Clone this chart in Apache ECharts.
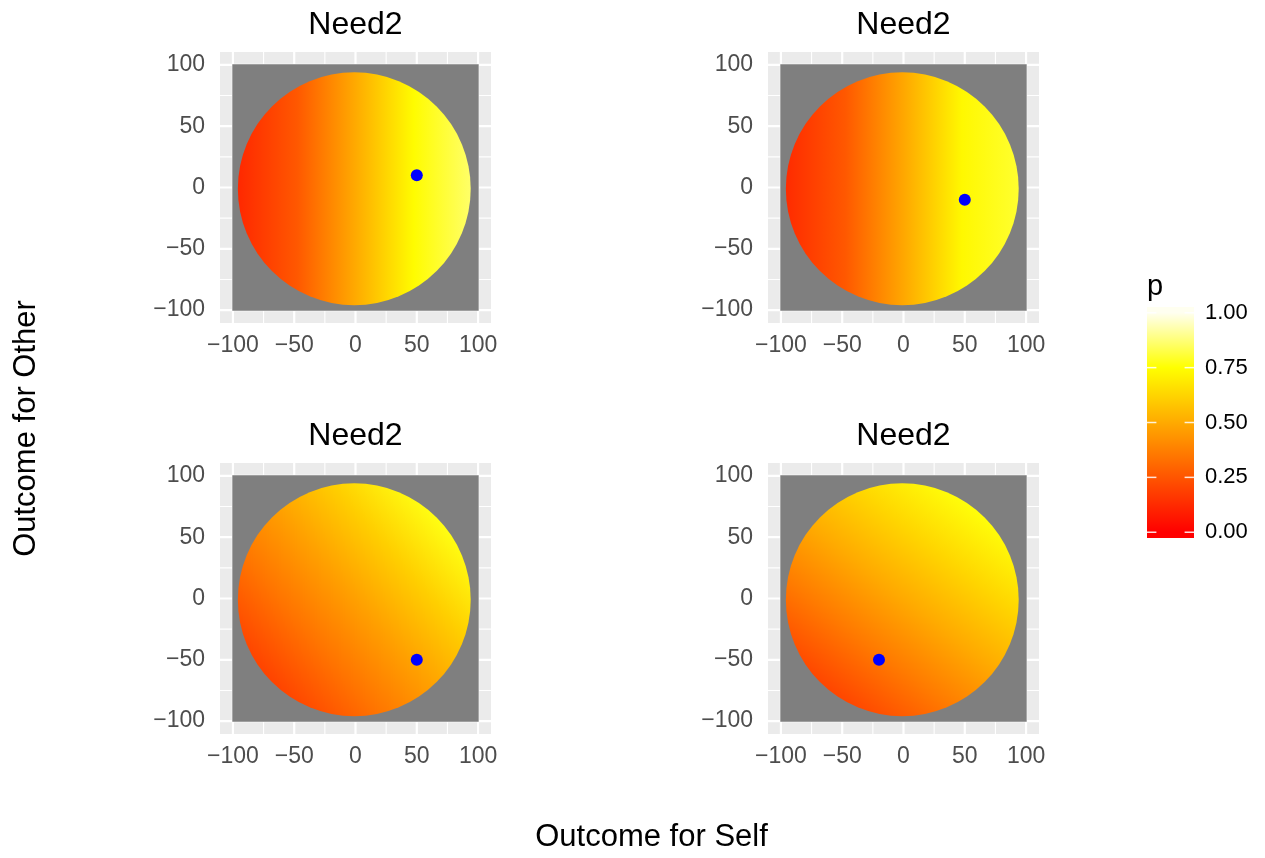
<!DOCTYPE html>
<html>
<head>
<meta charset="utf-8">
<script src="https://cdn.jsdelivr.net/npm/echarts@6/dist/echarts.min.js"></script>
<style>
  html, body { margin: 0; padding: 0; background: #ffffff; }
  #chart { width: 1265px; height: 858px; }
</style>
</head>
<body>
<div id="chart"></div>
<script>
// ---- data ----
const panelTitles = ['Need2', 'Need2', 'Need2', 'Need2'];

// Reference point (outcome for self, outcome for other) in each panel
const pointSelf  = [50, 50, 50, -20];
const pointOther = [10, -10, -50, -50];

// Feasible outcomes form a disc; everything else in the tile grid is missing (NA)
const discCentre = [-1, -1];
const discRadius = 95;
const tileExtent = [-100.5, 100.5];

// p measured at evenly spaced points along a line across each disc
const lineFrom = [[-95, 0], [-95, 0], [-72, -62], [-58, -75]];
const lineTo   = [[95, 0],  [95, 0],  [72, 62],   [58, 75]];
const pAlong1 = [0.12, 0.26, 0.50, 0.74, 0.86];
const pAlong2 = [0.13, 0.26, 0.49, 0.73, 0.80];
const pAlong3 = [0.20, 0.34, 0.47, 0.61, 0.77];
const pAlong4 = [0.21, 0.36, 0.50, 0.63, 0.76];
const pAlong = [pAlong1, pAlong2, pAlong3, pAlong4];

// Axes
const axisBreaks  = [-100, -50, 0, 50, 100];
const minorBreaks = [-75, -25, 25, 75];
const axisLimits  = [-110.55, 110.55];

// Colour scale for p
const legendBreaks = [0, 0.25, 0.5, 0.75, 1];
const legendLimits = [-0.0263, 1.0263];
const heatColours  = ['#FF0000', '#FF5500', '#FFAA00', '#FFFF00', '#FFFFF0'];

// ---- layout ----
const FONT = '"Liberation Sans", Arial, Helvetica, sans-serif';
const panelBoxes = [
  { left: 220, top: 52 },
  { left: 768, top: 52 },
  { left: 220, top: 463 },
  { left: 768, top: 463 }
];
const PANEL_SIZE = 271;

const heat = p => echarts.color.lerp(Math.max(0, Math.min(1, p)), heatColours);
const signed = v => (v < 0 ? '\u2212' + Math.abs(v) : String(v));

const grids = [], xAxes = [], yAxes = [], series = [], graphics = [];

panelBoxes.forEach((box, i) => {
  grids.push({
    left: box.left, top: box.top, width: PANEL_SIZE, height: PANEL_SIZE,
    show: true, backgroundColor: '#EBEBEB', borderWidth: 0
  });
  const axisCommon = {
    gridIndex: i, type: 'value', min: axisLimits[0], max: axisLimits[1],
    axisLine: { show: false },
    axisTick: { show: true, customValues: axisBreaks, length: 7,
                lineStyle: { color: '#333333', width: 2 } },
    splitLine: { show: false },
    minorSplitLine: { show: false }
  };
  xAxes.push(Object.assign({}, axisCommon, {
    axisLabel: { customValues: axisBreaks, formatter: signed, color: '#4D4D4D',
                 fontSize: 23, fontFamily: FONT, margin: 11 }
  }));
  yAxes.push(Object.assign({}, axisCommon, {
    axisLabel: { customValues: axisBreaks, formatter: signed, color: '#4D4D4D',
                 fontSize: 23, fontFamily: FONT, margin: 15, padding: [2, 0, 0, 0] }
  }));

  // panel grid lines (major and minor)
  series.push({
    type: 'custom', xAxisIndex: i, yAxisIndex: i, silent: true, z: 1, clip: true,
    data: axisBreaks.map(v => [v, 1]).concat(minorBreaks.map(v => [v, 0])),
    renderItem: (params, api) => {
      const v = api.value(0);
      const style = { stroke: '#FFFFFF', lineWidth: api.value(1) ? 2.2 : 1.1 };
      const a = api.coord([v, axisLimits[0]]), b = api.coord([v, axisLimits[1]]);
      const c = api.coord([axisLimits[0], v]), d = api.coord([axisLimits[1], v]);
      return { type: 'group', children: [
        { type: 'line', shape: { x1: a[0], y1: a[1], x2: b[0], y2: b[1] }, style },
        { type: 'line', shape: { x1: c[0], y1: c[1], x2: d[0], y2: d[1] }, style }
      ] };
    }
  });

  // missing tiles (grey50)
  series.push({
    type: 'custom', xAxisIndex: i, yAxisIndex: i, silent: true, z: 2,
    data: [[tileExtent[0], tileExtent[0], tileExtent[1], tileExtent[1]]],
    renderItem: (params, api) => {
      const p0 = api.coord([api.value(0), api.value(3)]);
      const p1 = api.coord([api.value(2), api.value(1)]);
      return { type: 'rect',
        shape: { x: p0[0], y: p0[1], width: p1[0] - p0[0], height: p1[1] - p0[1] },
        style: { fill: '#7F7F7F' } };
    }
  });

  // probability field on the disc
  series.push({
    type: 'custom', xAxisIndex: i, yAxisIndex: i, silent: true, z: 3,
    data: [[discCentre[0], discCentre[1], discRadius]],
    renderItem: (params, api) => {
      const c = api.coord([api.value(0), api.value(1)]);
      const r = api.size([api.value(2), 0])[0];
      const g0 = api.coord(lineFrom[i]);
      const g1 = api.coord(lineTo[i]);
      const vals = pAlong[i];
      const stops = vals.map((p, k) => ({ offset: k / (vals.length - 1), color: heat(p) }));
      return { type: 'circle', shape: { cx: c[0], cy: c[1], r },
        style: { fill: new echarts.graphic.LinearGradient(g0[0], g0[1], g1[0], g1[1], stops, true) } };
    }
  });

  // reference point
  series.push({
    type: 'scatter', xAxisIndex: i, yAxisIndex: i, z: 4, silent: true,
    symbol: 'circle', symbolSize: 12,
    itemStyle: { color: '#0000FF', opacity: 1 },
    data: [[pointSelf[i], pointOther[i]]]
  });

  graphics.push({
    type: 'text', x: box.left + PANEL_SIZE / 2, y: box.top - 26.5,
    style: { text: panelTitles[i], font: '32px ' + FONT, fill: '#000000',
             align: 'center', verticalAlign: 'middle' }
  });
});

// ---- colour bar legend ----
const LG = panelBoxes.length;
grids.push({ left: 1147, top: 307, width: 47, height: 231, show: false });
xAxes.push({ gridIndex: LG, type: 'value', min: 0, max: 1, show: false });
yAxes.push({
  gridIndex: LG, type: 'value', position: 'right',
  min: legendLimits[0], max: legendLimits[1],
  axisLine: { show: false }, splitLine: { show: false }, axisTick: { show: false },
  axisLabel: { customValues: legendBreaks, formatter: v => v.toFixed(2),
               color: '#000000', fontSize: 22, fontFamily: FONT, margin: 11 }
});
// gradient bar
series.push({
  type: 'custom', xAxisIndex: LG, yAxisIndex: LG, silent: true, z: 2,
  data: [[0, legendLimits[0], 1, legendLimits[1]]],
  renderItem: (params, api) => {
    const p0 = api.coord([api.value(0), api.value(3)]);
    const p1 = api.coord([api.value(2), api.value(1)]);
    const y0 = api.coord([0, 0])[1], y1 = api.coord([0, 1])[1];
    const stops = heatColours.map((col, k) => ({ offset: k / (heatColours.length - 1), color: col }));
    return { type: 'rect',
      shape: { x: p0[0], y: p0[1], width: p1[0] - p0[0], height: p1[1] - p0[1] },
      style: { fill: new echarts.graphic.LinearGradient(0, y0, 0, y1, stops, true) } };
  }
});
// white tick marks on both edges of the bar
series.push({
  type: 'custom', xAxisIndex: LG, yAxisIndex: LG, silent: true, z: 3,
  data: legendBreaks.map(v => [0, v]),
  renderItem: (params, api) => {
    const l = api.coord([0, api.value(1)]);
    const r = api.coord([1, api.value(1)]);
    const len = (r[0] - l[0]) / 5;
    const style = { stroke: 'rgba(255,255,255,0.85)', lineWidth: 1.5 };
    return { type: 'group', children: [
      { type: 'line', shape: { x1: l[0], y1: l[1], x2: l[0] + len, y2: l[1] }, style },
      { type: 'line', shape: { x1: r[0] - len, y1: r[1], x2: r[0], y2: r[1] }, style }
    ] };
  }
});
graphics.push({
  type: 'text', x: 1147, y: 287,
  style: { text: 'p', font: '29px ' + FONT, fill: '#000000', align: 'left', verticalAlign: 'middle' }
});

// ---- shared axis titles ----
graphics.push({
  type: 'text', x: 651.5, y: 837,
  style: { text: 'Outcome for Self', font: '31px ' + FONT, fill: '#000000',
           align: 'center', verticalAlign: 'middle' }
});
graphics.push({
  type: 'text', x: 26, y: 428.5, rotation: Math.PI / 2,
  style: { text: 'Outcome for Other', font: '31px ' + FONT, fill: '#000000',
           align: 'center', verticalAlign: 'middle' }
});

const chart = echarts.init(document.getElementById('chart'), null, { renderer: 'canvas' });
chart.setOption({
  animation: false,
  backgroundColor: '#FFFFFF',
  grid: grids,
  xAxis: xAxes,
  yAxis: yAxes,
  series: series,
  graphic: graphics
});
</script>
</body>
</html>
